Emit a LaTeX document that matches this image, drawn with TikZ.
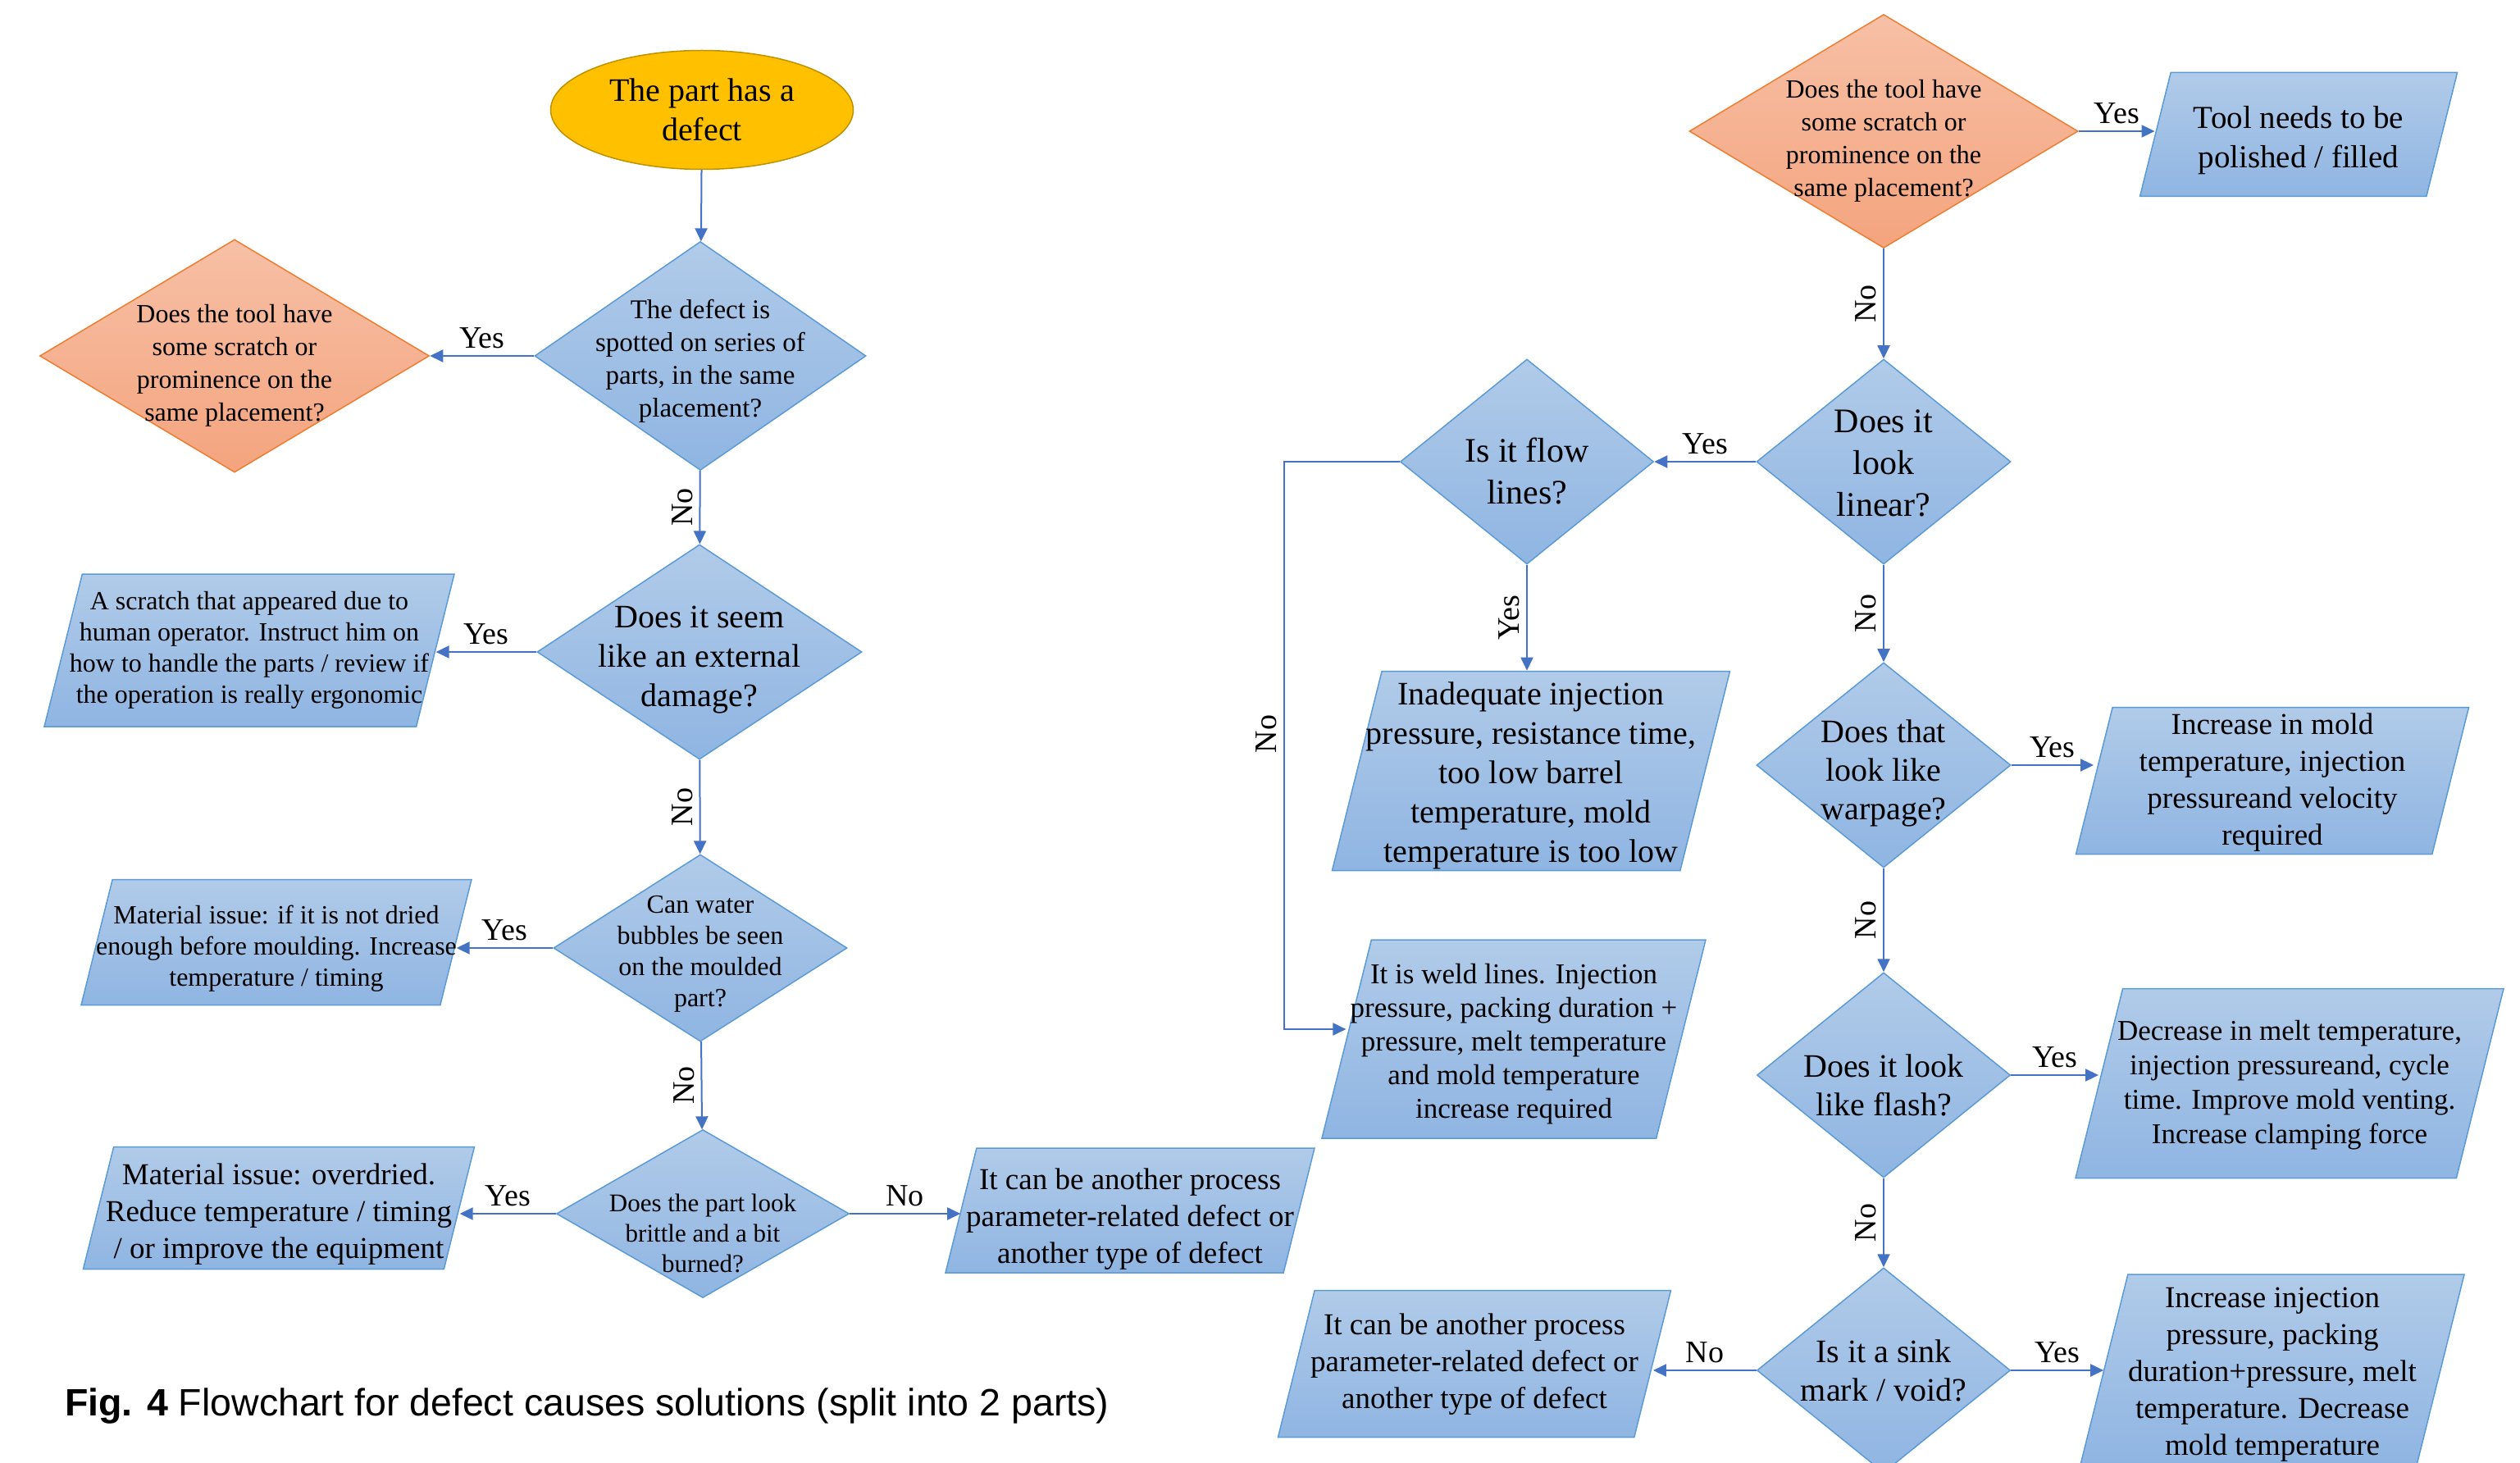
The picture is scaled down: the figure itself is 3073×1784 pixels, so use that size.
\documentclass[tikz,border=0pt]{standalone}
\usepackage{fontspec}
\setmainfont{Liberation Serif}
\newfontfamily\capfont{Liberation Sans}
\usepackage{tikz}
\usetikzlibrary{arrows.meta,shapes.geometric}
\definecolor{bluetop}{RGB}{177,203,233}
\definecolor{bluebot}{RGB}{143,181,226}
\definecolor{blueline}{RGB}{91,155,213}
\definecolor{arrowblue}{RGB}{68,114,196}
\definecolor{orangetop}{RGB}{247,192,166}
\definecolor{orangebot}{RGB}{244,164,126}
\definecolor{orangeline}{RGB}{237,125,49}
\definecolor{startfill}{RGB}{255,192,0}
\definecolor{startline}{RGB}{191,144,0}

\begin{document}
\begin{tikzpicture}[x=1pt, y=-1pt,
        fs/.style 2 args={font=\fontsize{#1}{#2}\selectfont},
        start/.style={ellipse, draw=startline, line width=1.5pt, fill=startfill,
                      inner sep=0pt, align=center},
        dec/.style={diamond, draw=blueline, line width=1.5pt,
                    top color=bluetop, bottom color=bluebot, inner sep=0pt},
        odec/.style={diamond, draw=orangeline, line width=1.5pt,
                     top color=orangetop, bottom color=orangebot, inner sep=0pt},
        % width, height; the strut inside keeps the 76 degree slant
        para/.style 2 args={trapezium, trapezium left angle=76, trapezium right angle=104,
                     trapezium stretches body=true, draw=blueline, line width=1.5pt,
                     top color=bluetop, bottom color=bluebot, inner sep=0pt,
                     minimum width=#1, minimum height=#2},
        txt/.style={align=center, inner sep=0pt},
        arr/.style={-{Triangle[length=16pt, width=15pt]}, line width=2pt, arrowblue},
        lbl/.style={fs={38}{46}, text=black, inner sep=8pt},
        rot/.style={rotate=90, anchor=south}
      ]
        \useasboundingbox (0,0) rectangle (3073,1784);

        % left part
        \node[start, fs={40}{48}, minimum width=369pt, minimum height=145pt] (begin) at (856,134)
          {The part has a\\defect};
        \node[dec, minimum width=404pt, minimum height=279pt] (spot) at (854,434) {};
        \node[txt, fs={33}{40}] (spotT) at ([yshift=-6pt]spot)
          {The defect is\\spotted on series of\\parts, in the same\\placement?};
        \node[odec, minimum width=475pt, minimum height=284pt] (toolL) at (286,434) {};
        \node[txt, fs={32}{40}] (toolLT) at ([yshift=-12pt]toolL)
          {Does the tool have\\some scratch or\\prominence on the\\same placement?};
        \node[dec, minimum width=396pt, minimum height=262pt] (extern) at (853,795) {};
        \node[txt, fs={40}{48}] (externT) at ([yshift=-10pt]extern)
          {Does it seem\\like an external\\damage?};
        \node[para={500pt}{186pt}] (human) at (304,793) {\rule{0pt}{186pt}};
        \node[txt, fs={32}{38}] (humanT) at (human)
          {A scratch that appeared due to\\human operator. Instruct him on\\how to handle the parts / review if\\the operation is really ergonomic};
        \node[dec, minimum width=358pt, minimum height=228pt] (water) at (854,1156) {};
        \node[txt, fs={32}{38}] (waterT) at ([yshift=-7pt]water)
          {Can water\\bubbles be seen\\on the moulded\\part?};
        \node[para={476pt}{153pt}] (dried) at (337,1149) {\rule{0pt}{153pt}};
        \node[txt, fs={32}{38}] (driedT) at ([yshift=-8pt]dried)
          {Material issue: if it is not dried\\enough before moulding. Increase\\temperature / timing};
        \node[dec, minimum width=357pt, minimum height=205pt] (brittle) at (857,1480) {};
        \node[txt, fs={31}{37}] (brittleT) at ([yshift=-24pt]brittle)
          {Does the part look\\brittle and a bit\\burned?};
        \node[para={477pt}{149pt}] (overdry) at (340,1473) {\rule{0pt}{149pt}};
        \node[txt, fs={37}{45}] (overdryT) at ([yshift=-8pt]overdry)
          {Material issue: overdried.\\Reduce temperature / timing\\/ or improve the equipment};
        \node[para={450pt}{152pt}] (otherL) at (1378,1476) {\rule{0pt}{152pt}};
        \node[txt, fs={37}{45}] (otherLT) at ([yshift=-11pt]otherL)
          {It can be another process\\parameter-related defect or\\another type of defect};
        \node[fs={46.5}{56}, inner sep=0pt, anchor=base west] (caption) at (79,1726)
          {\capfont\textbf{Fig. 4} Flowchart for defect causes solutions (split into 2 parts)};

        % right part
        \node[odec, minimum width=474pt, minimum height=285pt] (toolR) at (2297,160) {};
        \node[txt, fs={32}{40}] (toolRT) at ([yshift=-12pt]toolR)
          {Does the tool have\\some scratch or\\prominence on the\\same placement?};
        \node[para={387pt}{151pt}] (polish) at (2803,164) {\rule{0pt}{151pt}};
        \node[txt, fs={39}{48}] (polishT) at ([yshift=-7pt]polish)
          {Tool needs to be\\polished / filled};
        \node[dec, minimum width=310pt, minimum height=250pt] (linear) at (2297,563) {};
        \node[txt, fs={42}{51}] (linearT) at ([yshift=-2pt]linear)
          {Does it\\look\\linear?};
        \node[dec, minimum width=309pt, minimum height=250pt] (flow) at (1862,563) {};
        \node[txt, fs={42}{51}] (flowT) at ([yshift=-12pt]flow)
          {Is it flow\\lines?};
        \node[para={485pt}{243pt}] (inadeq) at (1867,940) {\rule{0pt}{243pt}};
        \node[txt, fs={40}{48}] (inadeqT) at ([yshift=-6pt]inadeq)
          {Inadequate injection\\pressure, resistance time,\\too low barrel\\temperature, mold\\temperature is too low};
        \node[dec, minimum width=310pt, minimum height=250pt] (warp) at (2297,933) {};
        \node[txt, fs={40}{47}] (warpT) at ([yshift=-10pt]warp)
          {Does that\\look like\\warpage?};
        \node[para={479pt}{179pt}] (moldinc) at (2771,952) {\rule{0pt}{179pt}};
        \node[txt, fs={37}{45}] (moldincT) at ([yshift=-2pt]moldinc)
          {Increase in mold\\temperature, injection\\pressureand velocity\\required};
        \node[para={468pt}{242pt}] (weld) at (1846,1267) {\rule{0pt}{242pt}};
        \node[txt, fs={35}{41}] (weldT) at ([yshift=-6pt]weld)
          {It is weld lines. Injection\\pressure, packing duration +\\pressure, melt temperature\\and mold temperature\\increase required};
        \node[dec, minimum width=309pt, minimum height=250pt] (flash) at (2297,1311) {};
        \node[txt, fs={40}{47}] (flashT) at ([yshift=-12pt]flash)
          {Does it look\\like flash?};
        \node[para={522pt}{231pt}] (venting) at (2792,1321) {\rule{0pt}{231pt}};
        \node[txt, fs={35}{42}] (ventingT) at ([yshift=-2pt]venting)
          {Decrease in melt temperature,\\injection pressureand, cycle\\time. Improve mold venting.\\Increase clamping force};
        \node[dec, minimum width=309pt, minimum height=250pt] (sink) at (2297,1671) {};
        \node[txt, fs={40}{47}] (sinkT) at (sink)
          {Is it a sink\\mark / void?};
        \node[para={468pt}{232pt}] (packing) at (2771,1670) {\rule{0pt}{232pt}};
        \node[txt, fs={37}{45}] (packingT) at ([yshift=-6pt]packing)
          {Increase injection\\pressure, packing\\duration+pressure, melt\\temperature. Decrease\\mold temperature};
        \node[para={479pt}{179pt}] (otherR) at (1798,1663) {\rule{0pt}{179pt}};
        \node[txt, fs={37}{45}] (otherRT) at ([yshift=-1pt]otherR)
          {It can be another process\\parameter-related defect or\\another type of defect};

        % connectors, left part
        \draw[arr] (begin) -- (spot);
        \draw[arr] (spot) -- node[lbl, above] (y1) {Yes} (toolL);
        \draw[arr] (spot) -- node[lbl, rot] (n1) {No} (extern);
        \draw[arr] (extern.west) -- node[lbl, above] (y2) {Yes} (extern.west -| human.right side);
        \draw[arr] (extern) -- node[lbl, rot] (n2) {No} (water);
        \draw[arr] (water.west) -- node[lbl, above] (y3) {Yes} (water.west -| dried.right side);
        \draw[arr] (water) -- node[lbl, rot] (n3) {No} (brittle);
        \draw[arr] (brittle.west) -- node[lbl, above] (y4) {Yes} (brittle.west -| overdry.right side);
        \draw[arr] (brittle.east) -- node[lbl, above] (n4) {No} (brittle.east -| otherL.left side);

        % connectors, right part
        \draw[arr] (toolR.east) -- node[lbl, above] (y5) {Yes} (toolR.east -| polish.left side);
        \draw[arr] (toolR) -- node[lbl, rot] (n5) {No} (linear);
        \draw[arr] (linear) -- node[lbl, above] (y6) {Yes} (flow);
        \draw[arr] (flow) -- node[lbl, rot] (y7) {Yes} (flow.south |- inadeq.north);
        \draw[arr] (flow.west) -- ++(-141,0) |- node[lbl, rot, pos=.24] (n6) {No} ([yshift=12pt]weld.left side);
        \draw[arr] (linear) -- node[lbl, rot] (n7) {No} (warp);
        \draw[arr] (warp.east) -- node[lbl, above] (y8) {Yes} (warp.east -| moldinc.left side);
        \draw[arr] (warp) -- node[lbl, rot] (n8) {No} (flash);
        \draw[arr] (flash.east) -- node[lbl, above] (y9) {Yes} (flash.east -| venting.left side);
        \draw[arr] (flash) -- node[lbl, rot] (n9) {No} (sink);
        \draw[arr] (sink.east) -- node[lbl, above] (y10) {Yes} (sink.east -| packing.left side);
        \draw[arr] (sink.west) -- node[lbl, above] (n10) {No} (sink.west -| otherR.right side);
      \end{tikzpicture}
\end{document}
